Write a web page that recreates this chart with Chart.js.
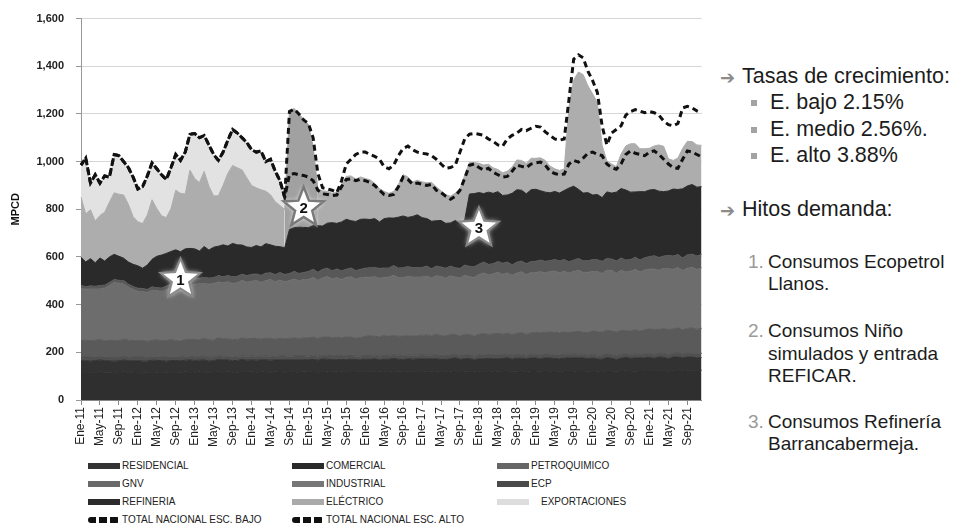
<!DOCTYPE html>
<html>
<head>
<meta charset="utf-8">
<script src="https://cdn.jsdelivr.net/npm/chart.js@4.4.1/dist/chart.umd.min.js"></script>
<style>
  body { margin: 0; background: #fff; font-family: "Liberation Sans", Arial, sans-serif; }
  #wrap { position: relative; width: 963px; height: 528px; overflow: hidden; }
  #box { position: absolute; left: 0; top: 0; width: 718px; height: 460px; }
  .t { position: absolute; white-space: nowrap; color: #1c1c1c; }
  .big { font-size: 21.5px; line-height: 21px; }
  .lst { font-size: 19px; line-height: 19px; }
  .arr { color: #8c8c8c; font-family: "DejaVu Sans", sans-serif; font-size: 18px; }
  .num { color: #9a9a9a; }
  .sq { position: absolute; width: 6px; height: 6px; background: #a3a3a3; }
  .lg { position: absolute; font-size: 10px; line-height: 10px; color: #222; white-space: nowrap; }
  .sw { position: absolute; width: 32px; height: 6px; }
</style>
</head>
<body>
<div id="wrap">
  <div id="box"><canvas id="chart"></canvas></div>
  <div id="legend"></div>

  <div class="t big arr" style="left:720px;top:67px;">➔</div>
  <div class="t big" style="left:742px;top:66px;">Tasas de crecimiento:</div>
  <div class="sq" style="left:751px;top:100px;"></div>
  <div class="t big" style="left:770px;top:92px;">E. bajo 2.15%</div>
  <div class="sq" style="left:751px;top:127px;"></div>
  <div class="t big" style="left:770px;top:119px;">E. medio 2.56%.</div>
  <div class="sq" style="left:751px;top:153px;"></div>
  <div class="t big" style="left:770px;top:145px;">E. alto 3.88%</div>
  <div class="t big arr" style="left:720px;top:200px;">➔</div>
  <div class="t big" style="left:742px;top:199px;">Hitos demanda:</div>

  <div class="t lst num" style="left:748px;top:252px;">1.</div>
  <div class="t lst" style="left:768px;top:252px;">Consumos Ecopetrol</div>
  <div class="t lst" style="left:768px;top:274px;">Llanos.</div>
  <div class="t lst num" style="left:748px;top:321px;">2.</div>
  <div class="t lst" style="left:768px;top:321px;">Consumos Niño</div>
  <div class="t lst" style="left:768px;top:344px;">simulados y entrada</div>
  <div class="t lst" style="left:768px;top:366px;">REFICAR.</div>
  <div class="t lst num" style="left:748px;top:412px;">3.</div>
  <div class="t lst" style="left:768px;top:412px;">Consumos Refinería</div>
  <div class="t lst" style="left:768px;top:434px;">Barrancabermeja.</div>
</div>

<script>
// months Ene-11 .. Dic-21
const meses = ["Ene", "Feb", "Mar", "Abr", "May", "Jun", "Jul", "Ago", "Sep", "Oct", "Nov", "Dic"];
const anios = ["11", "12", "13", "14", "15", "16", "17", "18", "19", "20", "21"];
const etiquetas = anios.flatMap(a => meses.map(m => m + "-" + a));

// MPCD by sector (stacked, bottom to top), one row per year
const residencial = [
  114,117,112,116,118,113,115,112,116,118,113,115,
  116,112,115,117,114,116,113,117,115,114,118,116,
  115,118,116,113,117,119,115,118,116,114,119,117,
  118,115,119,117,114,118,120,116,117,119,115,118,
  117,120,116,119,121,117,118,121,116,119,120,117,
  120,117,121,118,116,120,122,118,119,121,117,120,
  119,122,118,121,120,117,121,123,119,120,122,118,
  121,119,123,120,118,122,124,120,121,123,119,122,
  122,120,124,121,123,119,122,125,121,122,124,120,
  123,121,119,124,122,120,123,125,122,121,124,123,
  124,122,126,123,121,125,127,123,124,126,122,125
];
const comercial = [
  50,48,51,49,50,52,49,51,48,50,51,49,
  49,51,48,50,52,49,50,48,51,50,49,52,
  51,49,52,50,48,51,53,50,49,52,51,50,
  50,52,49,51,53,50,49,52,51,50,53,51,
  52,50,51,53,50,52,51,49,53,52,50,51,
  51,53,52,50,54,51,52,53,50,52,54,52,
  53,51,54,52,50,53,52,54,51,53,52,50,
  52,54,51,53,55,52,53,51,54,52,53,55,
  54,52,53,55,51,54,53,52,55,54,52,53,
  53,51,52,54,53,50,52,54,53,55,52,54,
  55,53,54,56,52,55,54,53,56,54,55,53
];
const petroquimico = [
  16,15,17,16,14,16,17,15,16,17,15,16,
  15,17,16,14,16,15,17,16,15,16,17,15,
  16,15,17,16,15,17,16,14,16,17,15,16,
  17,16,15,17,16,14,16,17,15,16,17,16,
  15,16,17,15,16,17,16,15,17,16,14,16,
  16,17,15,16,17,16,15,17,16,15,17,16,
  17,15,16,17,16,15,17,16,14,16,17,15,
  16,17,15,16,17,16,15,17,16,17,15,16,
  15,16,17,16,15,17,16,15,17,16,16,15,
  16,15,17,16,14,16,17,15,16,17,15,16,
  17,16,15,17,16,15,17,16,17,15,16,17
];
const gnv = [
  69,71,68,70,72,67,69,71,68,70,72,69,
  68,70,67,69,71,68,70,72,69,67,70,71,
  72,70,74,73,71,75,72,74,73,71,75,74,
  73,75,72,74,76,73,74,72,75,76,73,75,
  76,78,74,77,79,75,78,76,79,77,75,78,
  80,83,79,81,84,80,82,79,83,81,80,82,
  83,85,82,86,84,83,85,82,84,87,83,85,
  87,89,86,88,90,86,88,87,89,91,88,89,
  92,94,90,93,95,92,94,91,93,96,92,94,
  98,100,96,99,101,98,100,97,99,102,98,101,
  103,105,101,104,106,103,105,102,104,107,103,106
];
const industrial = [
  220,214,218,215,212,222,230,245,242,232,222,215,
  208,204,206,210,205,208,212,218,222,225,228,226,
  232,236,230,234,238,233,236,240,235,238,242,237,
  240,243,238,242,246,241,244,239,243,247,242,245,
  246,250,244,248,252,247,250,245,249,253,248,251,
  248,245,250,246,243,249,252,247,245,250,248,246,
  244,247,242,245,248,243,246,241,244,247,243,246,
  250,254,249,252,256,251,253,248,252,255,250,253,
  252,256,250,254,257,252,255,250,253,256,251,254,
  249,252,247,251,254,248,252,246,250,253,248,251,
  250,254,248,252,256,250,253,249,252,255,251,254
];
const ecp = [
  12,10,13,11,14,12,13,11,12,14,13,12,
  13,14,12,15,13,14,16,15,17,18,20,22,
  24,23,25,26,24,27,25,26,28,27,26,28,
  29,28,30,31,29,30,32,31,30,32,31,30,
  33,35,34,36,35,34,37,36,35,37,36,35,
  38,40,39,41,40,38,41,40,42,41,39,40,
  40,42,39,41,40,42,41,39,40,43,44,45,
  44,46,45,43,45,47,46,44,46,45,47,46,
  47,49,48,46,48,50,49,47,48,50,49,48,
  50,49,51,50,48,51,52,50,49,51,50,52,
  53,55,54,52,55,56,54,53,56,55,57,56
];
const refineria = [
  118,104,114,99,116,101,107,106,101,94,93,93,
  94,85,102,115,132,138,137,137,141,132,132,134,
  124,114,130,117,128,123,134,124,140,132,122,120,
  113,119,119,124,117,119,108,112,184,183,194,189,
  184,183,195,182,189,202,191,205,209,198,206,210,
  206,202,205,195,207,210,199,213,217,206,215,221,
  209,199,199,190,195,188,181,198,189,190,303,307,
  300,287,303,295,293,284,281,300,304,297,293,301,
  302,291,290,284,286,284,290,309,310,290,284,286,
  271,274,267,279,276,289,291,294,283,274,287,277,
  279,278,278,270,271,281,273,290,289,292,289,284
];
const electrico = [
  252,202,205,175,178,205,230,258,260,265,242,200,
  185,187,210,250,200,165,150,180,250,245,230,328,
  295,287,315,268,215,212,250,305,327,323,315,290,
  260,242,240,220,210,187,173,160,495,500,475,453,
  433,330,155,147,134,123,130,157,180,188,178,178,
  170,167,148,140,114,103,112,137,173,170,145,145,
  150,150,163,142,125,120,112,115,145,188,133,130,
  123,120,117,107,93,95,100,110,125,125,127,132,
  130,138,133,112,95,95,90,340,445,492,497,448,
  425,385,220,130,122,107,145,185,203,202,180,180,
  175,183,194,190,135,120,132,170,187,180,177,173
];
const exportaciones = [
  133,235,110,195,140,150,105,160,160,145,155,165,
  135,155,160,155,170,170,160,175,150,135,180,155,
  188,185,155,170,170,155,140,140,150,145,140,150,
  150,150,160,125,150,125,105,50,0,0,0,0,
  0,0,0,0,0,0,0,0,0,0,0,0,
  0,0,0,0,0,0,0,0,0,0,0,0,
  0,0,0,0,0,0,0,0,0,0,0,0,
  0,0,0,0,0,0,0,0,0,0,0,0,
  0,0,0,0,0,0,0,0,0,0,0,0,
  0,0,0,0,0,0,0,0,0,0,0,0,
  0,0,0,0,0,0,0,0,0,0,0,0
];

// national totals, low and high scenario
const totalBajo = [
  985,1015,910,945,910,940,935,1030,1025,1000,975,935,
  885,895,940,995,970,945,925,975,1030,1005,1040,1115,
  1118,1100,1110,1070,1030,1005,1040,1090,1135,1120,1100,1080,
  1050,1040,1045,1000,1010,960,920,850,945,950,945,942,
  935,920,880,865,862,858,860,895,925,928,920,926,
  920,912,900,880,862,858,862,895,935,925,905,910,
  905,900,905,880,870,855,842,855,880,930,985,990,
  975,965,972,955,945,935,938,960,985,980,975,990,
  995,998,985,960,950,945,948,990,1005,998,1015,1035,
  1040,1030,1025,990,975,968,990,1030,1045,1035,1030,1025,
  1040,1045,1030,1010,990,975,972,1010,1045,1040,1030,1020
];
const totalAlto = [
  985,1015,910,945,910,940,935,1030,1025,1000,975,935,
  885,895,940,995,970,945,925,975,1030,1005,1040,1115,
  1118,1100,1110,1070,1030,1005,1040,1090,1135,1120,1100,1080,
  1050,1040,1045,1000,1010,960,920,850,1210,1220,1200,1175,
  1160,1100,950,890,885,880,870,920,990,1010,1030,1040,
  1040,1030,1022,1010,978,970,985,1025,1055,1065,1050,1040,
  1035,1032,1025,1010,990,972,975,985,1040,1095,1115,1118,
  1115,1110,1095,1085,1070,1065,1095,1110,1120,1135,1130,1140,
  1148,1145,1125,1110,1095,1090,1095,1260,1430,1448,1435,1380,
  1340,1290,1150,1070,1120,1135,1150,1195,1210,1218,1212,1205,
  1210,1205,1195,1170,1155,1150,1160,1225,1232,1225,1213,1205
];

// milestones marked with stars: month index and MPCD level
const hitoTxt = ["1", "2", "3"];
const hitoMes = [21, 47, 84];
const hitoVal = [510, 810, 725];

// Niño 2014-15 months drawn in a darker grey
const ninoDesde = 43, ninoHasta = 50;

const sectores = [
  { label: "RESIDENCIAL", data: residencial, color: "#2f2f2f", sw: "#333333" },
  { label: "COMERCIAL", data: comercial, color: "#323232", sw: "#2a2a2a" },
  { label: "PETROQUIMICO", data: petroquimico, color: "#505050", sw: "#666666" },
  { label: "GNV", data: gnv, color: "#5a5a5a", sw: "#6a6a6a" },
  { label: "INDUSTRIAL", data: industrial, color: "#6d6d6d", sw: "#777777" },
  { label: "ECP", data: ecp, color: "#585858", sw: "#4a4a4a" },
  { label: "REFINERIA", data: refineria, color: "#2a2a2a", sw: "#2b2b2b" },
  { label: "ELÉCTRICO", data: electrico, color: "#adadad", sw: "#aaaaaa" },
  { label: "EXPORTACIONES", data: exportaciones, color: "#e2e2e2", sw: "#dddddd" }
];

const datasets = [
  {
    label: "TOTAL NACIONAL ESC. BAJO", data: totalBajo, stack: "bajo",
    borderColor: "#111", borderWidth: 3, borderDash: [6, 4], fill: false
  },
  {
    label: "TOTAL NACIONAL ESC. ALTO", data: totalAlto, stack: "alto",
    borderColor: "#111", borderWidth: 3, borderDash: [6, 4], borderDashOffset: 2, fill: false
  }
];
sectores.forEach(function (s, k) {
  const idx = datasets.length;
  const ds = {
    label: s.label, data: s.data, stack: "areas",
    backgroundColor: s.color, borderColor: s.color,
    borderWidth: k === sectores.length - 1 ? 0 : 1,
    fill: k === 0 ? "origin" : idx - 1
  };
  if (s.label === "ELÉCTRICO") {
    const nino = function (c) {
      return (c.p0DataIndex >= ninoDesde && c.p1DataIndex <= ninoHasta) ? "#a1a1a1" : undefined;
    };
    ds.segment = { backgroundColor: nino, borderColor: nino };
  }
  datasets.push(ds);
});

function star(ctx, cx, cy, ro, ri) {
  ctx.beginPath();
  for (let i = 0; i < 10; i++) {
    const r = i % 2 === 0 ? ro : ri;
    const a = -Math.PI / 2 + i * Math.PI / 5;
    const px = cx + r * Math.cos(a), py = cy + r * Math.sin(a);
    if (i === 0) ctx.moveTo(px, py); else ctx.lineTo(px, py);
  }
  ctx.closePath();
}

const hitos = {
  id: "hitos",
  afterDatasetsDraw(chart) {
    const ctx = chart.ctx;
    const x = chart.scales.x, y = chart.scales.y;
    hitoTxt.forEach(function (t, k) {
      const cx = x.getPixelForValue(hitoMes[k]);
      const cy = y.getPixelForValue(hitoVal[k]);
      ctx.save();
      ctx.shadowColor = "rgba(255,255,255,0.9)";
      ctx.shadowBlur = 5;
      star(ctx, cx, cy + 1, 21, 9);
      ctx.fillStyle = "#fff";
      ctx.fill();
      ctx.shadowBlur = 0;
      ctx.lineWidth = k === 1 ? 2.5 : 2;
      ctx.strokeStyle = k === 1 ? "#7a7a7a" : "#8a8a8a";
      ctx.stroke();
      ctx.fillStyle = "#111";
      ctx.font = "bold 15px 'Liberation Sans', Arial";
      ctx.textAlign = "center";
      ctx.textBaseline = "middle";
      ctx.fillText(t, cx, cy + 2);
      ctx.restore();
    });
  }
};

Chart.defaults.font.family = "'Liberation Sans', Arial, sans-serif";

new Chart(document.getElementById("chart").getContext("2d"), {
  type: "line",
  data: { labels: etiquetas, datasets: datasets },
  options: {
    responsive: true,
    maintainAspectRatio: false,
    animation: false,
    events: [],
    layout: { padding: { top: 15, right: 9, bottom: 5, left: 0 } },
    elements: { point: { radius: 0 }, line: { tension: 0 } },
    plugins: { legend: { display: false }, tooltip: { enabled: false } },
    scales: {
      x: {
        ticks: {
          autoSkip: false, minRotation: 90, maxRotation: 90, padding: 2,
          color: "#222", font: { size: 12 },
          callback: function (v, i) { return i % 4 === 0 ? etiquetas[i] : ""; }
        },
        grid: {
          drawOnChartArea: false, tickLength: 5,
          color: function (c) { return c.index % 4 === 0 ? "#888" : "rgba(0,0,0,0)"; }
        },
        border: { color: "#888" },
        afterFit: function (s) { s.height = 55; }
      },
      y: {
        stacked: true,
        min: 0, max: 1600,
        ticks: {
          stepSize: 200, padding: 12, color: "#222", font: { size: 11, weight: "bold" },
          callback: function (v) { return v.toLocaleString("en-US"); }
        },
        grid: { color: "#d6d6d6", tickColor: "#999", tickLength: 5 },
        border: { color: "#999" },
        title: { display: true, text: "MPCD", color: "#111", font: { size: 11, weight: "bold" }, padding: { top: 9, bottom: 0 } },
        afterFit: function (s) { s.width = 81; }
      }
    }
  },
  plugins: [hitos]
});

// legend below the chart, three columns
const leg = document.getElementById("legend");
const colX = [88, 292, 497];
const rowY = [461, 479, 497, 515];
const items = sectores.map(s => ({ label: s.label, sw: s.sw, dash: false }))
  .concat([{ label: "TOTAL NACIONAL ESC. BAJO", dash: true }, { label: "TOTAL NACIONAL ESC. ALTO", dash: true }]);
items.forEach(function (it, k) {
  const cx = colX[k % 3], ry = rowY[Math.floor(k / 3)];
  const sw = document.createElement("div");
  sw.className = "sw";
  sw.style.left = cx + "px";
  sw.style.top = (ry + 2) + "px";
  if (it.dash) {
    sw.style.background = "repeating-linear-gradient(90deg,#111 0 8px,transparent 8px 11px)";
    sw.style.borderRadius = "3px";
  } else {
    sw.style.background = it.sw;
  }
  leg.appendChild(sw);
  const tx = document.createElement("div");
  tx.className = "lg";
  tx.style.left = (cx + 34 + (it.label === "EXPORTACIONES" ? 10 : 0)) + "px";
  tx.style.top = ry + "px";
  tx.textContent = it.label;
  leg.appendChild(tx);
});
</script>
</body>
</html>
